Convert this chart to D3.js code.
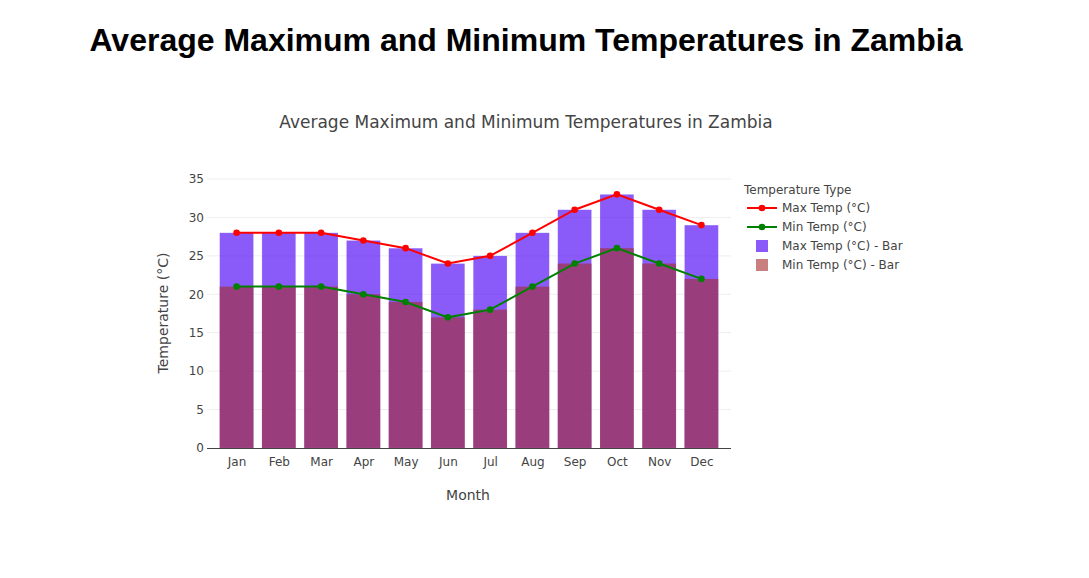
<!DOCTYPE html>
<html>
<head>
<meta charset="utf-8">
<script src="https://cdn.jsdelivr.net/npm/d3@7"></script>
<style>
body { margin: 0; background: #fff; }
h1 { font-family: "Liberation Sans", Arial, sans-serif; font-weight: bold; font-size: 32px; margin: 0; position: absolute; left: 0; width: 1052px; text-align: center; top: 22px; color: #000; }
svg { position: absolute; left: 0; top: 0; }
</style>
</head>
<body>
<h1>Average Maximum and Minimum Temperatures in Zambia</h1>
<svg id="chart" width="1089" height="578"></svg>
<script>
const months = ["Jan","Feb","Mar","Apr","May","Jun","Jul","Aug","Sep","Oct","Nov","Dec"];
const maxTemp = [28,28,28,27,26,24,25,28,31,33,31,29];
const minTemp = [21,21,21,20,19,17,18,21,24,26,24,22];
const yTicks = [0,5,10,15,20,25,30,35];
const legendLabels = ["Max Temp (°C)","Min Temp (°C)","Max Temp (°C) - Bar","Min Temp (°C) - Bar"];

(function () {
const svg = d3.select("#chart");
const font = '"DejaVu Sans", Verdana, sans-serif';
const pLeft = 207, pRight = 731, pTop = 179, pBottom = 448;

const x = d3.scalePoint().domain(months).range([pLeft, pRight]).padding(0.7);
const barW = x.step() * 0.8;
const y = d3.scaleLinear().domain([0, 35]).range([pBottom, pTop]);

// grid
svg.append("g").selectAll("line").data(yTicks.filter(d => d > 0)).join("line")
  .attr("x1", pLeft).attr("x2", pRight)
  .attr("y1", d => y(d)).attr("y2", d => y(d))
  .attr("stroke", "#eee").attr("stroke-width", 1);

// bars
svg.append("g").selectAll("rect").data(months).join("rect")
  .attr("x", d => x(d) - barW / 2).attr("width", barW)
  .attr("y", (d, i) => y(maxTemp[i])).attr("height", (d, i) => y(0) - y(maxTemp[i]))
  .attr("fill", "rgb(88,22,246)").attr("fill-opacity", 0.7)
  .attr("stroke", "rgba(255,255,255,0.35)").attr("stroke-width", 0.5);
svg.append("g").selectAll("rect").data(months).join("rect")
  .attr("x", d => x(d) - barW / 2).attr("width", barW)
  .attr("y", (d, i) => y(minTemp[i])).attr("height", (d, i) => y(0) - y(minTemp[i]))
  .attr("fill", "brown").attr("fill-opacity", 0.6);

// axes
const yAxis = d3.axisLeft(y).tickValues(yTicks).tickSize(0).tickPadding(3);
const gy = svg.append("g").attr("transform", `translate(${pLeft},0)`).call(yAxis);
gy.select(".domain").remove();
gy.selectAll("text").attr("font-family", font).attr("font-size", 12).attr("fill", "#444");

const xAxis = d3.axisBottom(x).tickSize(0).tickPadding(9);
const gx = svg.append("g").attr("transform", `translate(0,${pBottom})`).call(xAxis);
gx.select(".domain").attr("stroke", "#444").attr("stroke-width", 1).attr("d", `M${pLeft},0.5H${pRight}`);
gx.selectAll("text").attr("font-family", font).attr("font-size", 12).attr("fill", "#444");

// lines
function drawLine(vals, color) {
  const line = d3.line().x((d, i) => x(months[i])).y(d => y(d));
  svg.append("path").datum(vals).attr("d", line).attr("fill", "none").attr("stroke", color).attr("stroke-width", 2);
  svg.append("g").selectAll("circle").data(vals).join("circle")
    .attr("cx", (d, i) => x(months[i])).attr("cy", d => y(d)).attr("r", 3.3).attr("fill", color);
}
drawLine(maxTemp, "red");
drawLine(minTemp, "green");

// titles
svg.append("text").attr("x", 526).attr("y", 128).attr("text-anchor", "middle")
  .attr("font-family", font).attr("font-size", 17).attr("fill", "#444")
  .text("Average Maximum and Minimum Temperatures in Zambia");
svg.append("text").attr("x", 468).attr("y", 500).attr("text-anchor", "middle")
  .attr("font-family", font).attr("font-size", 14).attr("fill", "#444").text("Month");
svg.append("text").attr("transform", "translate(168,313) rotate(-90)").attr("text-anchor", "middle")
  .attr("font-family", font).attr("font-size", 14).attr("fill", "#444").text("Temperature (°C)");

// legend
const lg = svg.append("g");
lg.append("text").attr("x", 744).attr("y", 194).attr("font-family", font).attr("font-size", 12).attr("fill", "#444").text("Temperature Type");
const legY = [208, 227, 246, 265];
const legColors = ["red", "green"];
legColors.forEach((c, i) => {
  lg.append("line").attr("x1", 747).attr("x2", 777).attr("y1", legY[i]).attr("y2", legY[i]).attr("stroke", c).attr("stroke-width", 2);
  lg.append("circle").attr("cx", 762).attr("cy", legY[i]).attr("r", 3.3).attr("fill", c);
});
lg.append("rect").attr("x", 756).attr("y", legY[2] - 6).attr("width", 12).attr("height", 12).attr("fill", "rgb(88,22,246)").attr("fill-opacity", 0.7);
lg.append("rect").attr("x", 756).attr("y", legY[3] - 6).attr("width", 12).attr("height", 12).attr("fill", "brown").attr("fill-opacity", 0.6);
lg.selectAll("text.item").data(legendLabels).join("text").attr("class", "item")
  .attr("x", 782).attr("y", (d, i) => legY[i] + 4)
  .attr("font-family", font).attr("font-size", 12).attr("fill", "#444").text(d => d);
})();
</script>
</body>
</html>
